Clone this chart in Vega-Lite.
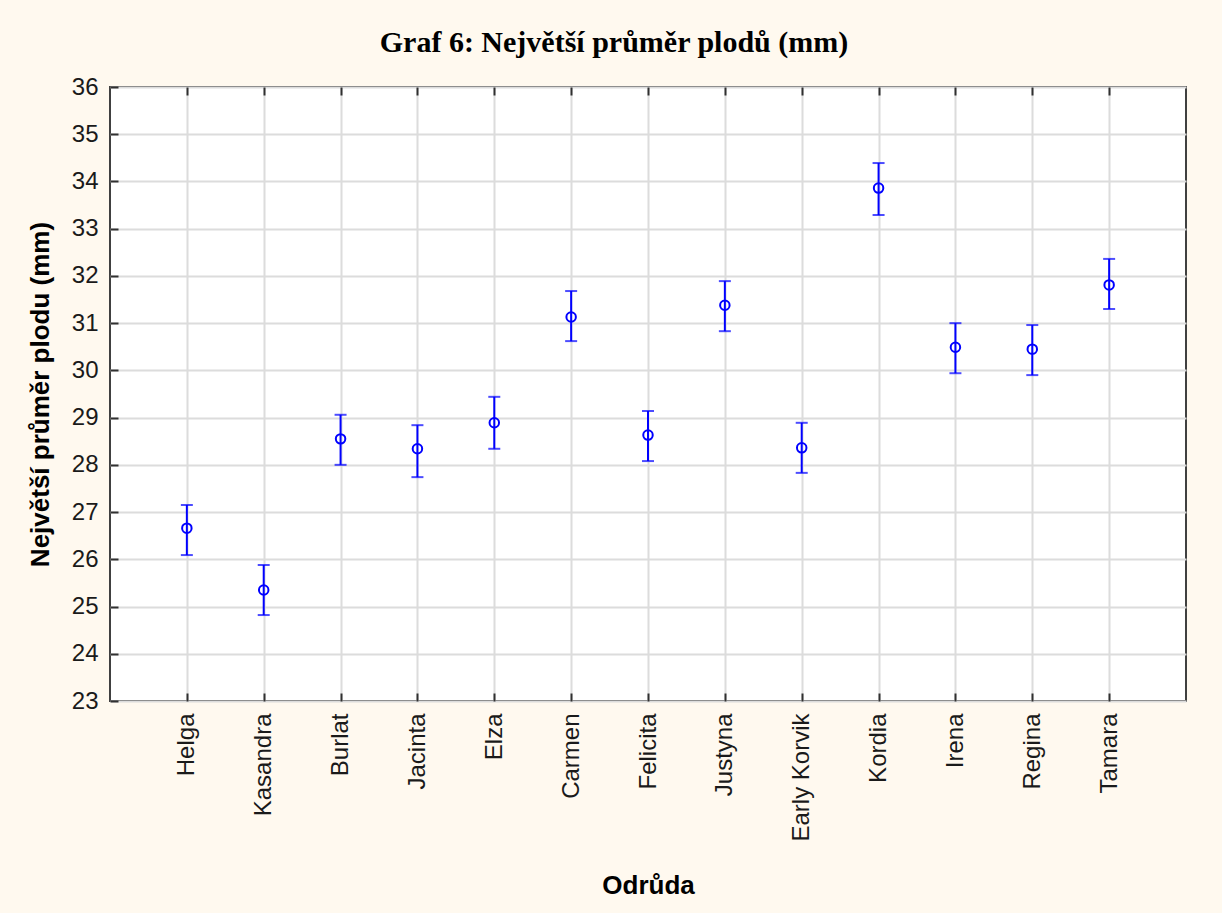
{
  "$schema": "https://vega.github.io/schema/vega-lite/v6.json",
  "width": 1076,
  "height": 614,
  "autosize": "none",
  "padding": {"left": 110, "top": 87, "right": 36, "bottom": 212},
  "background": "#FFF9EF",
  "title": {
    "text": "Graf 6: Největší průměr plodů (mm)",
    "font": "Liberation Serif",
    "fontSize": 30,
    "fontWeight": "bold",
    "color": "#000000",
    "dx": -34,
    "offset": 17
  },
  "config": {
    "view": {"fill": "#FFFFFF", "stroke": "#404040", "strokeWidth": 2},
    "font": "Liberation Sans",
    "axis": {
      "domain": false,
      "gridColor": "#DCDCDC",
      "gridWidth": 2,
      "tickColor": "#303030",
      "tickWidth": 2,
      "tickSize": 8,
      "labelFont": "Liberation Sans",
      "labelFontSize": 24,
      "labelColor": "#1A1A1A",
      "titleFont": "Liberation Sans",
      "titleFontSize": 26,
      "titleFontWeight": "bold",
      "titleColor": "#000000"
    },
    "axisY": {"labelPadding": 4, "titlePadding": 18, "values": [23,24,25,26,27,28,29,30,31,32,33,34,35,36]},
    "axisX": {"labelAngle": -90, "labelPadding": 4, "titlePadding": 31, "labelAlign": "right", "labelBaseline": "middle"}
  },
  "data": {
    "values": [
      {"odruda": "Helga", "mean": 26.66, "lo": 26.09, "hi": 27.15},
      {"odruda": "Kasandra", "mean": 25.35, "lo": 24.82, "hi": 25.88},
      {"odruda": "Burlat", "mean": 28.55, "lo": 28.0, "hi": 29.06},
      {"odruda": "Jacinta", "mean": 28.34, "lo": 27.74, "hi": 28.84},
      {"odruda": "Elza", "mean": 28.89, "lo": 28.34, "hi": 29.44},
      {"odruda": "Carmen", "mean": 31.13, "lo": 30.62, "hi": 31.68},
      {"odruda": "Felicita", "mean": 28.63, "lo": 28.08, "hi": 29.14},
      {"odruda": "Justyna", "mean": 31.38, "lo": 30.83, "hi": 31.89},
      {"odruda": "Early Korvik", "mean": 28.36, "lo": 27.83, "hi": 28.89},
      {"odruda": "Kordia", "mean": 33.86, "lo": 33.29, "hi": 34.39},
      {"odruda": "Irena", "mean": 30.49, "lo": 29.94, "hi": 31.0},
      {"odruda": "Regina", "mean": 30.45, "lo": 29.9, "hi": 30.96},
      {"odruda": "Tamara", "mean": 31.81, "lo": 31.3, "hi": 32.36}
    ]
  },
  "resolve": {"scale": {"x": "shared", "y": "shared"}, "axis": {"x": "independent", "y": "independent"}},
  "layer": [
    {
      "mark": {"type": "rule", "color": "#0000FF", "strokeWidth": 2},
      "encoding": {
        "x": {"field": "odruda", "type": "ordinal", "sort": null, "scale": {"type": "point", "padding": 1}, "title": "Odrůda", "axis": {"orient": "bottom", "grid": true, "tickOpacity": 0}},
        "y": {"field": "lo", "type": "quantitative", "scale": {"domain": [23, 36], "nice": false, "zero": false}, "title": "Největší průměr plodu (mm)", "axis": {"orient": "left", "grid": true, "tickOpacity": 0}},
        "y2": {"field": "hi"}
      }
    },
    {
      "mark": {"type": "tick", "color": "#0000FF", "thickness": 2, "size": 12},
      "encoding": {
        "x": {"field": "odruda", "type": "ordinal", "sort": null, "axis": {"orient": "top", "offset": -614, "labels": false, "title": null, "grid": false}},
        "y": {"field": "lo", "type": "quantitative", "axis": {"orient": "right", "offset": -1076, "labels": false, "title": null, "grid": false}}
      }
    },
    {
      "mark": {"type": "tick", "color": "#0000FF", "thickness": 2, "size": 12},
      "encoding": {
        "x": {"field": "odruda", "type": "ordinal", "sort": null, "axis": {"orient": "bottom", "offset": -614, "labels": false, "title": null, "grid": false}},
        "y": {"field": "hi", "type": "quantitative", "axis": null}
      }
    },
    {
      "mark": {"type": "point", "shape": "circle", "filled": false, "color": "#0000FF", "strokeWidth": 2, "size": 90, "opacity": 1},
      "encoding": {
        "x": {"field": "odruda", "type": "ordinal", "sort": null, "axis": null},
        "y": {"field": "mean", "type": "quantitative", "axis": null}
      }
    }
  ]
}
